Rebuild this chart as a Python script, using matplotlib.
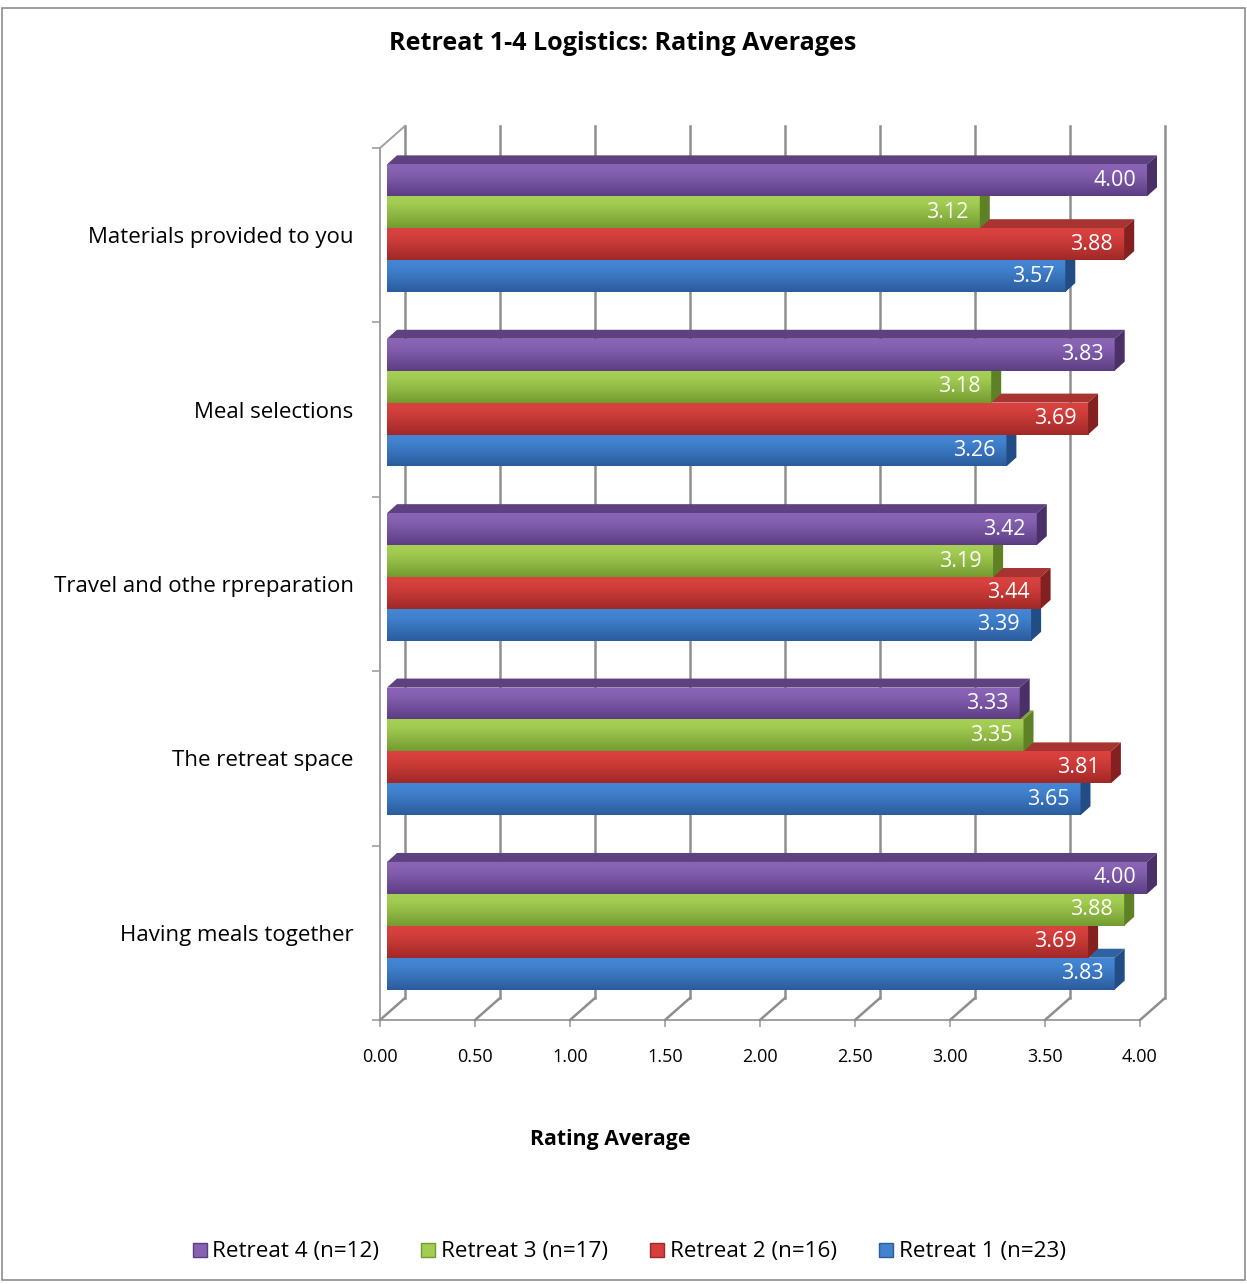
import numpy as np
import matplotlib
matplotlib.use("Agg")
import matplotlib.pyplot as plt
from matplotlib import transforms
from matplotlib.patches import Rectangle, Polygon
from matplotlib.lines import Line2D
from matplotlib.colors import to_rgb

# ---------------- data ----------------
categories = ["Materials provided to you", "Meal selections",
              "Travel and othe rpreparation", "The retreat space",
              "Having meals together"]
series_names = ["Retreat 4 (n=12)", "Retreat 3 (n=17)",
                "Retreat 2 (n=16)", "Retreat 1 (n=23)"]
retreat4 = [4.00, 3.83, 3.42, 3.33, 4.00]
retreat3 = [3.12, 3.18, 3.19, 3.35, 3.88]
retreat2 = [3.88, 3.69, 3.44, 3.81, 3.69]
retreat1 = [3.57, 3.26, 3.39, 3.65, 3.83]
x_ticks = [0.0, 0.5, 1.0, 1.5, 2.0, 2.5, 3.0, 3.5, 4.0]
x_ticklabels = ["0.00", "0.50", "1.00", "1.50", "2.00", "2.50", "3.00", "3.50", "4.00"]
title = "Retreat 1-4 Logistics: Rating Averages"
x_label = "Rating Average"

series_values = [retreat4, retreat3, retreat2, retreat1]
# (light, dark, top face, side face)
series_colors = [
    ("#8762B3", "#5C3D82", "#5F417F", "#4B3068"),
    ("#A2CC52", "#739C30", "#7FA23E", "#5F8125"),
    ("#D5403D", "#A02826", "#A83432", "#852020"),
    ("#4283D0", "#2A5C9C", "#2F62A2", "#224D84"),
]

# ---------------- figure ----------------
W, H = 1247, 1284
DPI = 100
plt.rcParams['font.family'] = ['Open Sans', 'DejaVu Sans']
fig = plt.figure(figsize=(W / DPI, H / DPI), dpi=DPI)
fig.patch.set_facecolor("white")

# outer border
fig.patches.append(Rectangle((2 / W, 4 / H), (W - 4) / W, (H - 12) / H,
                             transform=fig.transFigure, fill=False,
                             edgecolor="#8C8C8C", lw=1.2))

ax = fig.add_axes([380 / W, 1 - 1020 / H, 760 / W, 872 / H])
n = len(categories)
ax.set_xlim(0, 4)
ax.set_ylim(-0.5, n - 0.5)
ax.patch.set_visible(False)
for s in ["top", "right"]:
    ax.spines[s].set_visible(False)
grid_c = "#8E8E8E"
for s in ["left", "bottom"]:
    ax.spines[s].set_color("#A0A0A0")
    ax.spines[s].set_linewidth(1.4)

ax.set_xticks(x_ticks, x_ticklabels)
ax.tick_params(axis="x", length=5, color="#A0A0A0", width=1.2, pad=15,
               labelsize=13)
centers = [n - 1 - k for k in range(n)]
ax.set_yticks(centers, categories)
ax.set_yticks([k - 0.5 for k in range(n + 1)], minor=True)
ax.tick_params(axis="y", which="major", length=0, pad=19, labelsize=16)
ax.tick_params(axis="y", which="minor", length=6, color="#A0A0A0", width=1.2)

# back wall / floor grid
BX, BY = 25, 22
trans_back = transforms.offset_copy(ax.transData, fig=fig, x=BX, y=BY, units="dots")
ident = transforms.IdentityTransform()
for t in x_ticks:
    ax.plot([t, t], [-0.5, n - 0.5], transform=trans_back, color=grid_c,
            lw=1.8, clip_on=False, zorder=1)
    p0 = ax.transData.transform((t, -0.5))
    p1 = trans_back.transform((t, -0.5))
    fig.lines.append(Line2D([p0[0], p1[0]], [p0[1], p1[1]], transform=ident,
                            color=grid_c, lw=1.8, zorder=1))
# left wall top edge
p0 = ax.transData.transform((0, n - 0.5))
p1 = trans_back.transform((0, n - 0.5))
fig.lines.append(Line2D([p0[0], p1[0]], [p0[1], p1[1]], transform=ident,
                        color="#A0A0A0", lw=1.4, zorder=1))

# ---------------- bars ----------------
OX, OY = 7, 7      # front face offset
DX, DY = 10, 9     # bar depth
trans_bar = transforms.offset_copy(ax.transData, fig=fig, x=OX, y=OY, units="dots")
lab_t = transforms.offset_copy(ax.transData, fig=fig, x=OX - 11, y=OY, units="dots")
bar_h = 0.183
offsets = [1.5 * bar_h, 0.5 * bar_h, -0.5 * bar_h, -1.5 * bar_h]


def grad_img(light, dark):
    l = np.array(to_rgb(light))
    d = np.array(to_rgb(dark))
    t = np.linspace(0, 1, 64)
    w = np.clip((t - 0.2) / 0.8, 0, 1) ** 1.1
    w[t < 0.2] = (0.2 - t[t < 0.2]) * -0.4
    cols = l[None, :] * (1 - w[:, None]) + d[None, :] * w[:, None]
    cols = np.clip(cols, 0, 1)
    return cols[:, None, :]


for k in reversed(range(n)):           # bottom group first
    for si in reversed(range(len(series_values))):   # bottom bar first
        v = series_values[si][k]
        light, dark, topc, sidec = series_colors[si]
        y0 = centers[k] + offsets[si] - bar_h / 2
        y1 = y0 + bar_h
        base = 3 + (n - k) * 0.5 + (len(series_values) - si) * 0.1
        # front face with gradient
        rect = Rectangle((0, y0), v, bar_h, transform=trans_bar,
                         facecolor=dark, edgecolor="none", zorder=base)
        ax.add_patch(rect)
        rect.set_clip_on(False)
        im = ax.imshow(grad_img(light, dark), extent=(0, v, y0, y1),
                       aspect="auto", origin="upper", zorder=base + 0.01,
                       interpolation="bilinear")
        im.set_transform(trans_bar)
        im.set_clip_box(None)
        im.set_clip_path(rect)
        # top face
        a = trans_bar.transform((0, y1))
        b = trans_bar.transform((v, y1))
        top = Polygon([a, b, b + [DX, DY], a + [DX, DY]], closed=True,
                      transform=ident, facecolor=topc, edgecolor="none",
                      zorder=base - 0.02)
        ax.add_artist(top)
        top.set_clip_on(False)
        # side face
        c = trans_bar.transform((v, y0))
        side = Polygon([c, b, b + [DX, DY], c + [DX, DY]], closed=True,
                       transform=ident, facecolor=sidec, edgecolor="none",
                       zorder=base + 0.02)
        ax.add_artist(side)
        side.set_clip_on(False)
        # value label
        ax.text(v, (y0 + y1) / 2, f"{v:.2f}", transform=lab_t, ha="right",
                va="center", color="white", fontsize=15.5, zorder=base + 0.03,
                clip_on=False)

ax.set_xlim(0, 4)
ax.set_ylim(-0.5, n - 0.5)

# ---------------- texts ----------------
fig.text(623 / W, 1 - 44 / H, title, ha="center", va="center",
         fontsize=18.1, fontweight="bold")
fig.text(610 / W, 1 - 1140 / H, x_label, ha="center", va="center",
         fontsize=15.3, fontweight="bold")

handles = [Line2D([], [], marker="s", linestyle="none", markersize=10,
                  markerfacecolor=c[0], markeredgecolor=c[1])
           for c in series_colors]
fig.legend(handles, series_names, loc="center", bbox_to_anchor=(628 / W, 1 - 1252 / H),
           ncol=4, frameon=False, fontsize=16.2, handletextpad=0.15,
           columnspacing=1.8, handlelength=0.8)

fig.savefig("out.png", dpi=DPI, facecolor="white")
